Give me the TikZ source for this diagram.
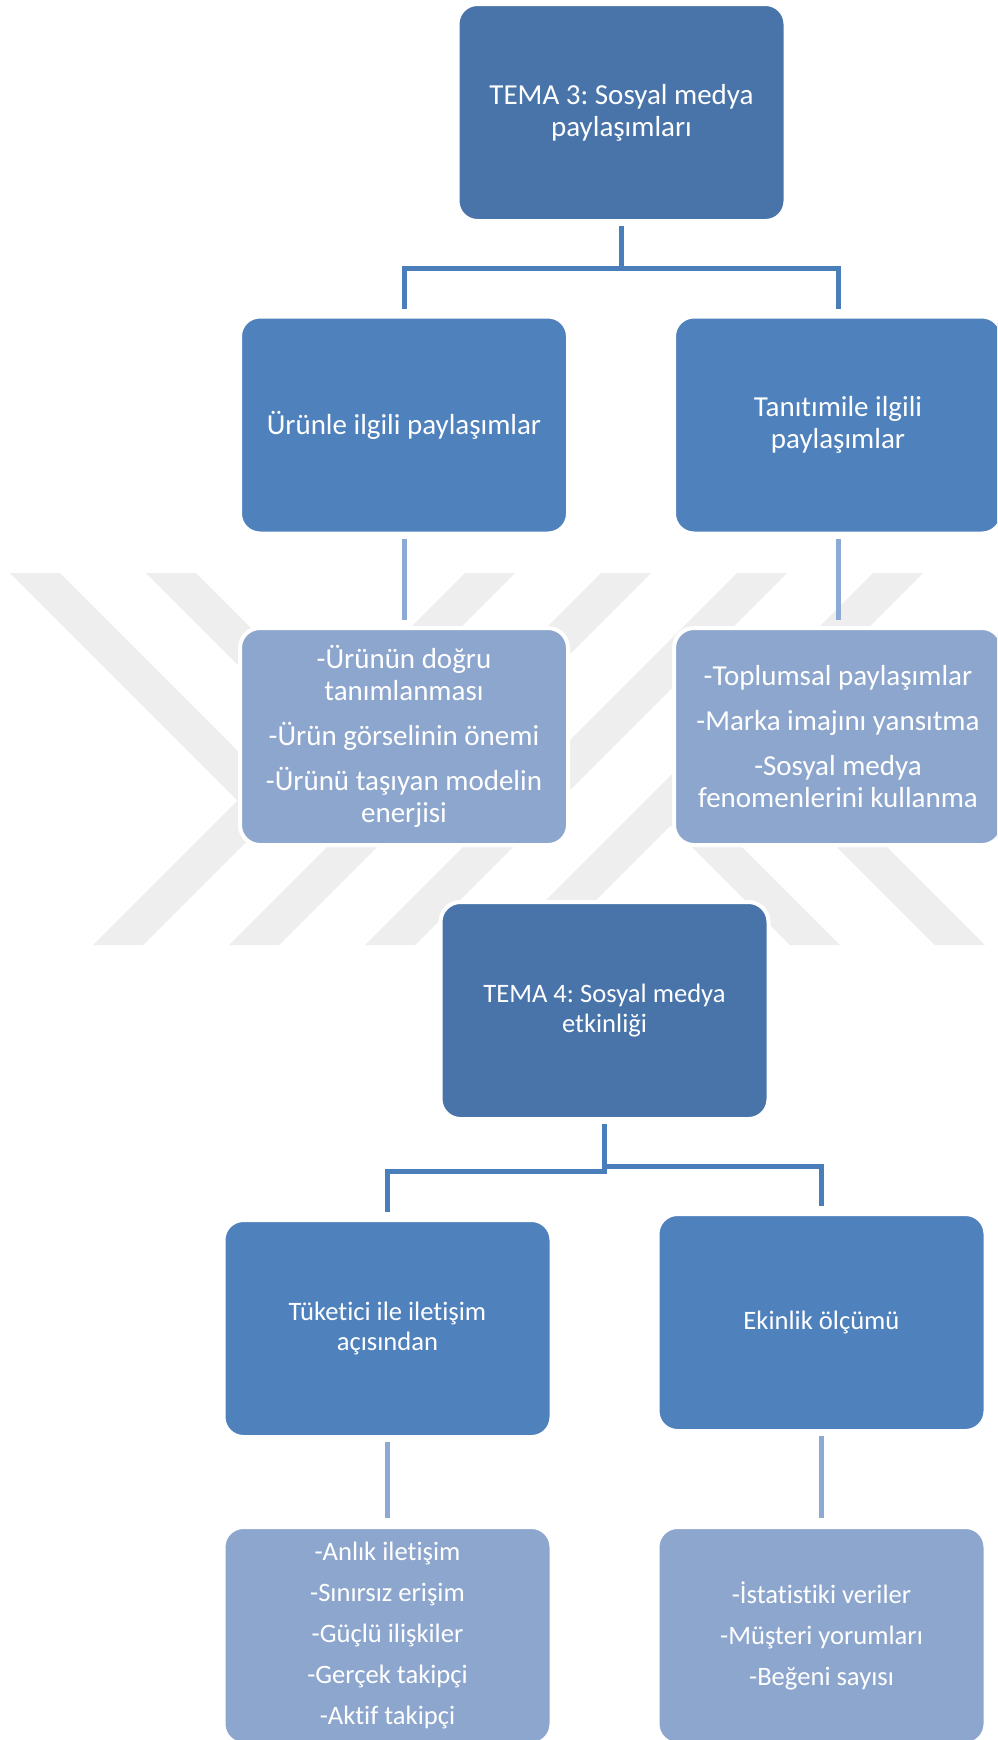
\documentclass[tikz,border=0pt]{standalone}
\usepackage{fontspec}
\setmainfont{Carlito}[Ligatures=NoCommon]
\frenchspacing
\definecolor{boxdark}{HTML}{4874AA}
\definecolor{boxmid}{HTML}{4F81BD}
\definecolor{boxlight}{HTML}{8DA6CE}
\definecolor{lineA}{HTML}{4A7EBB}
\definecolor{lineB}{HTML}{8DAAD5}
\definecolor{wmgray}{HTML}{EEEEEE}
\tikzset{
  boxbase/.style={rounded corners=20pt, draw=white, line width=4pt, text=white, align=center,
                  inner sep=0pt, minimum width=328pt, minimum height=217pt},
  topbox/.style={boxbase, fill=boxdark},
  midbox/.style={boxbase, fill=boxmid},
  lowbox/.style={boxbase, fill=boxlight},
  fthree/.style={font=\fontsize{29}{32}\selectfont},
  ffour/.style={font=\fontsize{26.6}{30}\selectfont},
  conna/.style={draw=lineA, line width=5pt},
  connb/.style={draw=lineB, line width=5pt},
  wmband/.style={fill=wmgray, draw=none},
}
\begin{document}
\begin{tikzpicture}[x=1pt,y=-1pt]
\useasboundingbox (0,0) rectangle (997,1740);
\clip (0,0) rectangle (997,1740);
\fill[white] (0,0) rectangle (997,1740);

% watermark: four "/" bands
\foreach \c in {1038,1174,1310,1446}{
  \fill[wmband] (\c-573,573) -- (\c+50-573,573) -- (\c+50-945,945) -- (\c-945,945) -- cycle;
}
% "\" bands from top-left, ending in the first "/" band
\fill[wmband] (10,573) -- (60,573) -- (275,788) -- (250,813) -- cycle;
\fill[wmband] (146,573) -- (196,573) -- (343,720) -- (318,745) -- cycle;
% "\" bands from bottom-right, ending in the last "/" band
\fill[wmband] (790,945) -- (840,945) -- (683,788) -- (658,813) -- cycle;
\fill[wmband] (935,945) -- (985,945) -- (755.5,715.5) -- (730.5,740.5) -- cycle;

% TEMA 3 section
\node[topbox,fthree] (t3) at (621.5,112.5) {TEMA 3: Sosyal medya\\paylaşımları};
\node[midbox,fthree] (a1) at (404,425) {Ürünle ilgili paylaşımlar};
\node[midbox,fthree] (b1) at (838,425) {Tanıtımile ilgili\\paylaşımlar};
\node[lowbox,fthree] (a2) at (404,736.5) {-Ürünün doğru\\tanımlanması\\[13pt]-Ürün görselinin önemi\\[13pt]-Ürünü taşıyan modelin\\enerjisi};
\node[lowbox,fthree] (b2) at (838,736.5) {-Toplumsal paylaşımlar\\[13pt]-Marka imajını yansıtma\\[13pt]-Sosyal medya\\fenomenlerini kullanma};

\coordinate (j1) at (621.5,268.5);
\draw[conna] ([yshift=-3pt]t3.south) -- ([yshift=-2.5pt]j1);
\draw[conna] ([yshift=6pt]a1.north) -- (a1.north |- j1) -- (b1.north |- j1) -- ([yshift=6pt]b1.north);
\draw[connb] ([yshift=-3pt]a1.south) -- ([yshift=6pt]a2.north);
\draw[connb] ([yshift=-3pt]b1.south) -- ([yshift=6pt]b2.north);

% TEMA 4 section
\node[topbox,ffour] (t4) at (604.5,1010.5) {TEMA 4: Sosyal medya\\etkinliği};
\node[midbox,ffour] (c1) at (387.5,1328.5) {Tüketici ile iletişim\\açısından};
\node[midbox,ffour] (d1) at (821.5,1322.5) {Ekinlik ölçümü};
\node[lowbox,ffour] (c2) at (387.5,1635.5) {-Anlık iletişim\\[11pt]-Sınırsız erişim\\[11pt]-Güçlü ilişkiler\\[11pt]-Gerçek takipçi\\[11pt]-Aktif takipçi};
\node[lowbox,ffour] (d2) at (821.5,1635.5) {-İstatistiki veriler\\[11pt]-Müşteri yorumları\\[11pt]-Beğeni sayısı};

\coordinate (j2l) at (604.5,1171);
\coordinate (j2r) at (604.5,1166.5);
\draw[conna] ([yshift=-3pt]t4.south) -- ([yshift=-2.5pt]j2l);
\draw[conna] (j2l) -- (c1.north |- j2l) -- ([yshift=6pt]c1.north);
\draw[conna] (j2r) -- (d1.north |- j2r) -- ([yshift=6pt]d1.north);
\draw[connb] ([yshift=-3pt]c1.south) -- ([yshift=7pt]c2.north);
\draw[connb] ([yshift=-3pt]d1.south) -- ([yshift=7pt]d2.north);
\end{tikzpicture}
\end{document}
